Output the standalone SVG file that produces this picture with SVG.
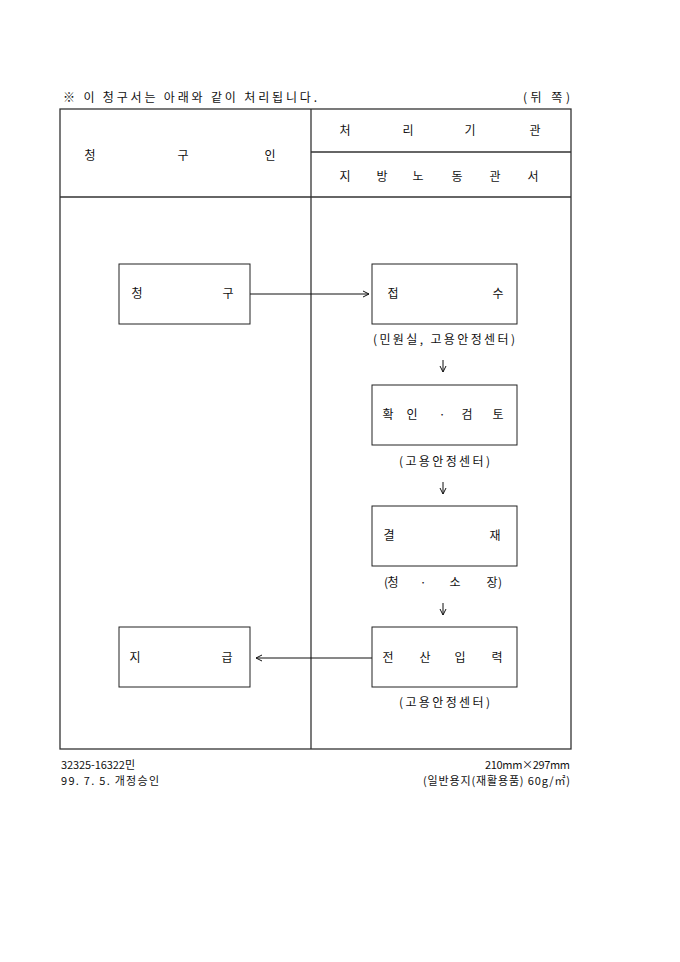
<svg xmlns="http://www.w3.org/2000/svg" width="680" height="962" viewBox="0 0 680 962">
<defs>
<style>
text{font-family:"Noto Sans CJK KR","Liberation Sans",sans-serif;font-size:12px;fill:#111;}
.c{text-anchor:middle;}
.ft{font-size:11px;}
.tbl{fill:none;stroke:#333;stroke-width:1.3;}
.box{fill:#fff;stroke:#222;stroke-width:1;}
.con{fill:none;stroke:#111;stroke-width:1;}
</style>
<marker id="ah" markerWidth="8" markerHeight="8" refX="7" refY="4" orient="auto" markerUnits="userSpaceOnUse">
<path d="M1,1 L7,4 L1,7" fill="none" stroke="#111" stroke-width="1"/>
</marker>
</defs>
<rect width="680" height="962" fill="#fff"/>

<g id="title">
<text x="63" y="102" textLength="254" lengthAdjust="spacing"><tspan font-weight="bold">※</tspan> 이 청구서는 아래와 같이 처리됩니다.</text>
<text x="523" y="102" textLength="47" lengthAdjust="spacing">(뒤 쪽)</text>
</g>

<g id="table">
<rect class="tbl" x="60" y="109" width="511" height="640"/>
<line class="tbl" x1="311" y1="109" x2="311" y2="749"/>
<line class="tbl" x1="60" y1="197" x2="571" y2="197"/>
<line class="tbl" x1="311" y1="152" x2="571" y2="152"/>
<text class="c" x="90 136 183 226 270" y="160">청 구 인</text>
<text class="c" x="345 376 408 439 470 502 535" y="135">처 리 기 관</text>
<text class="c" x="345 363 382 400 418 437 457 476 495 514 533" y="181">지 방 노 동 관 서</text>
</g>

<g id="connectors">
<path class="con" d="M250,294 L369,294" marker-end="url(#ah)"/>
<path class="con" d="M372,658 L256,658" marker-end="url(#ah)"/>
<path class="con" d="M443,360 L443,372" marker-end="url(#ah)"/>
<path class="con" d="M443,482 L443,494" marker-end="url(#ah)"/>
<path class="con" d="M443,603 L443,615" marker-end="url(#ah)"/>
</g>

<g id="n-request">
<rect class="box" x="119" y="264" width="131" height="60"/>
<text class="c" x="137 182 228" y="298">청 구</text>
</g>

<g id="n-receipt">
<rect class="box" x="372" y="264" width="145" height="60"/>
<text class="c" x="393 445 498" y="298">접 수</text>
<text x="373" y="344" textLength="142" lengthAdjust="spacing">(민원실, 고용안정센터)</text>
</g>

<g id="n-review">
<rect class="box" x="372" y="385" width="145" height="60"/>
<text class="c" x="388 400 412 427 442 455 467 482 498" y="419">확 인 · 검 토</text>
<text x="399" y="466" textLength="91" lengthAdjust="spacing">(고용안정센터)</text>
</g>

<g id="n-approval">
<rect class="box" x="372" y="506" width="145" height="60"/>
<text class="c" x="389 442 495" y="540">결 재</text>
<text class="c" x="386 393 408 423 439 455 473 492 500" y="587">(청 · 소 장)</text>
</g>

<g id="n-input">
<rect class="box" x="372" y="627" width="145" height="60"/>
<text class="c" x="388 406 425 443 460 478 497" y="662">전 산 입 력</text>
<text x="399" y="707" textLength="91" lengthAdjust="spacing">(고용안정센터)</text>
</g>

<g id="n-payment">
<rect class="box" x="119" y="627" width="131" height="60"/>
<text class="c" x="135 181 227" y="662">지 급</text>
</g>

<g id="footer">
<text class="ft" x="61" y="769" textLength="74" lengthAdjust="spacing">32325-16322민</text>
<text class="ft" x="61" y="785" textLength="98" lengthAdjust="spacing">99. 7. 5. 개정승인</text>
<text class="ft" x="485" y="769" textLength="85" lengthAdjust="spacing">210mm×297mm</text>
<text class="ft" x="423" y="785" textLength="147" lengthAdjust="spacing">(일반용지(재활용품) 60g/㎡)</text>
</g>
</svg>
